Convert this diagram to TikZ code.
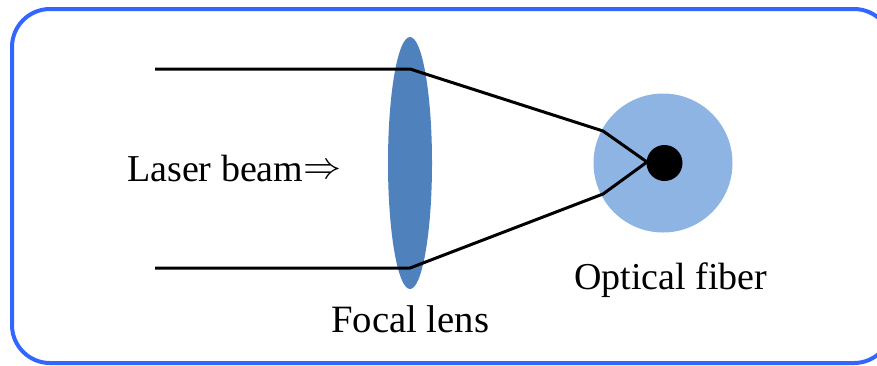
\documentclass[tikz,border=0pt]{standalone}
\usepackage{fontspec}
\setmainfont{Liberation Serif}
\usetikzlibrary{shapes.geometric}
\definecolor{framecol}{HTML}{3366FF}
\definecolor{lenscol}{HTML}{4F81BD}
\definecolor{fibercol}{HTML}{8EB4E3}
\newcommand{\bigimplies}{\raisebox{2.5pt}{\scalebox{3.8}{\fontsize{10pt}{12pt}\selectfont$\Rightarrow$}}}
\tikzset{
  frame/.style={draw=framecol,line width=4pt,rounded corners=38pt},
  lens/.style={ellipse,fill=lenscol,minimum width=44pt,minimum height=252pt,inner sep=0pt},
  fiber/.style={circle,fill=fibercol,minimum size=139pt,inner sep=0pt},
  core/.style={circle,fill=black,minimum size=36pt,inner sep=0pt},
  beam/.style={draw=black,line width=3pt,line join=round},
  lbl/.style={inner sep=0pt,font=\fontsize{38pt}{45pt}\selectfont,text=black,anchor=base west}
}
\begin{document}
\begin{tikzpicture}[x=1pt,y=-1pt]
\useasboundingbox (0,0) rectangle (877,365);
\begin{scope}
\clip (0,0) rectangle (877,365);
\draw[frame] (12,9) rectangle (892,363);
\end{scope}
\node[lens] (lens) at (410,163) {};
\node[fiber] (fiber) at (663,163) {};
\node[core] (core) at (664.5,163) {};
\coordinate (t0) at (155,69);
\coordinate (t1) at (410,69);
\coordinate (t2) at (603,131);
\coordinate (tip) at (647,162);
\coordinate (b2) at (603,194);
\coordinate (b1) at (410,268);
\coordinate (b0) at (155,268);
\draw[beam] (t0) -- (t1) -- (t2) -- (tip) -- (b2) -- (b1) -- (b0);
\node[lbl] (laser) at (127,181) {Laser beam\bigimplies};
\node[lbl,font=\fontsize{38.7pt}{45pt}\selectfont] (flens) at (331,332) {Focal lens};
\node[lbl] (ofiber) at (574,289) {Optical fiber};
\end{tikzpicture}
\end{document}
